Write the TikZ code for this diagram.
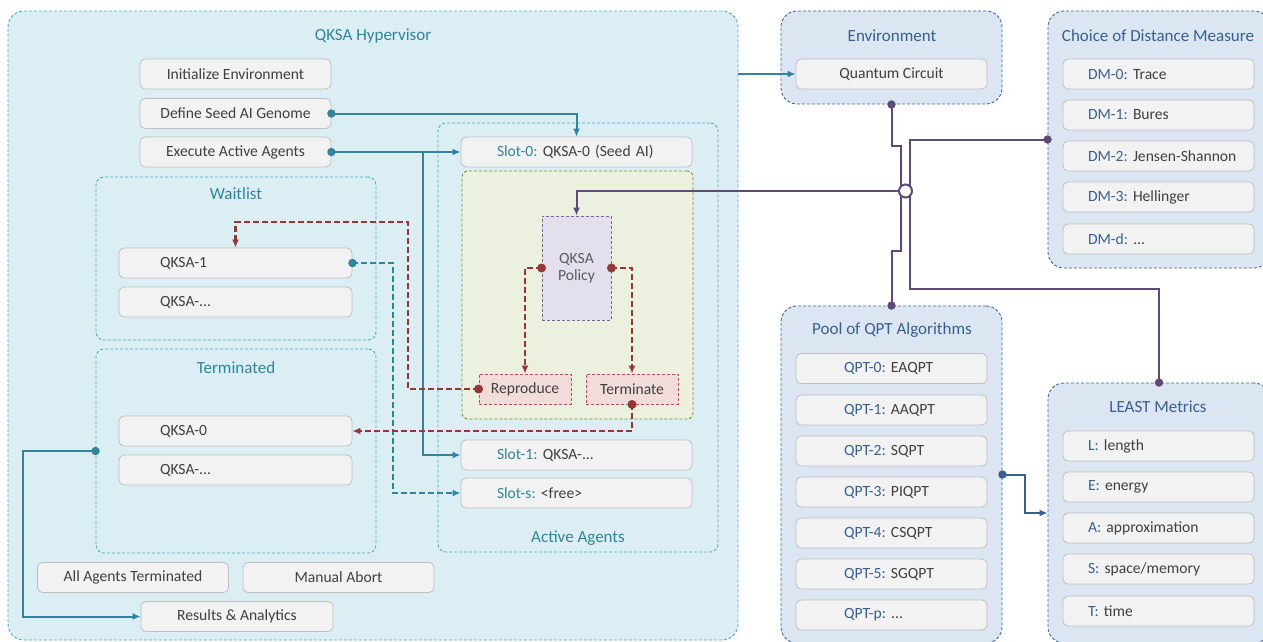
\documentclass[tikz,border=0pt]{standalone}
\usepackage{fontspec}
\setmainfont{Carlito}
\usetikzlibrary{arrows.meta}
\pgfdeclarelayer{front}
\pgfsetlayers{main,front}

\definecolor{hypfill}{HTML}{DAEEF3}
\definecolor{tealline}{HTML}{31849B}
\definecolor{tealdash}{HTML}{4BACC6}
\definecolor{tealtext}{HTML}{31859C}
\definecolor{gfill}{HTML}{F2F2F2}
\definecolor{gdraw}{HTML}{BFBFBF}
\definecolor{txt}{HTML}{404040}
\definecolor{bluefill}{HTML}{DCE6F2}
\definecolor{bluedraw}{HTML}{41649A}
\definecolor{bluetext}{HTML}{376092}
\definecolor{purp}{HTML}{5F497A}
\definecolor{redl}{HTML}{953735}
\definecolor{redfill}{HTML}{F2DCDB}
\definecolor{reddraw}{HTML}{C0504D}
\definecolor{greenfill}{HTML}{EBF1DE}
\definecolor{greendraw}{HTML}{77933C}
\definecolor{polfill}{HTML}{E4DFEC}
\definecolor{poldraw}{HTML}{8064A2}
\definecolor{navyl}{HTML}{3A5F8F}

\frenchspacing
\newcommand\boxfnt{\fontsize{15.6}{18}\selectfont}
\newcommand\titlefnt{\fontsize{17}{20}\selectfont}
\newcommand\slotlbl[1]{\textcolor{tealtext}{#1}}
\newcommand\bluelbl[1]{\textcolor{bluetext}{#1}}

\tikzset{
  container/.style={draw=tealdash, line width=0.9pt, dash pattern=on 3pt off 2pt,
    rounded corners=8pt, inner sep=0pt},
  outerbox/.style={container, fill=hypfill, rounded corners=16pt},
  rightbox/.style={draw=bluedraw, fill=bluefill, line width=0.9pt,
    dash pattern=on 3pt off 2pt, rounded corners=16pt, inner sep=0pt},
  ttl/.style={font=\titlefnt, text=tealtext, inner sep=0pt},
  bttl/.style={font=\titlefnt, text=bluetext, inner sep=0pt},
  gbox/.style={draw=gdraw, fill=gfill, line width=0.8pt, rounded corners=5pt,
    inner ysep=0pt, minimum height=30pt, font=\boxfnt, text=txt},
  cbox/.style={gbox, inner xsep=0pt, minimum width=191pt},
  lbox/.style={gbox, align=left},
  dashbox/.style={line width=0.9pt, dash pattern=on 3pt off 2pt, inner sep=0pt,
    font=\boxfnt, text=txt},
  tline/.style={draw=tealline, line width=2pt, -{Latex[length=8pt,width=7pt]}},
  tdash/.style={tline, line width=2.4pt, dash pattern=on 6pt off 3pt},
  rline/.style={draw=redl, line width=2.4pt, dash pattern=on 6pt off 3pt,
    -{Latex[length=8pt,width=7pt]}},
  pline/.style={draw=purp, line width=2pt},
  nline/.style={draw=navyl, line width=2pt, -{Latex[length=8pt,width=7pt]}},
}

\begin{document}
\begin{tikzpicture}[x=1pt, y=-1pt]
\useasboundingbox (0,0) rectangle (1263,641);

% ---------- containers ----------
\node[outerbox, minimum width=730pt, minimum height=629pt] (hyp) at (373,325.5) {};
\node[ttl] (hyptitle) at (373,36) {QKSA Hypervisor};

\node[container, minimum width=280pt, minimum height=163pt] (wait) at (236,258.5) {};
\node[ttl] (waittitle) at (236,194) {Waitlist};

\node[container, minimum width=280pt, minimum height=204pt] (term) at (236,451) {};
\node[ttl] (termtitle) at (236,368) {Terminated};

\node[container, minimum width=280pt, minimum height=429pt] (act) at (578,337.5) {};
\node[ttl] (acttitle) at (578,538) {Active Agents};

\node[rightbox, minimum width=221pt, minimum height=93pt] (env) at (891.5,57.5) {};
\node[bttl] (envtitle) at (892,36) {Environment};

\node[rightbox, minimum width=222pt, minimum height=257pt] (dm) at (1159,139.5) {};
\node[bttl] (dmtitle) at (1158,36) {Choice of Distance Measure};

\node[rightbox, minimum width=221pt, minimum height=337pt] (pool) at (891.5,474.5) {};
\node[bttl] (pooltitle) at (892,330) {Pool of QPT Algorithms};

\node[rightbox, minimum width=222pt, minimum height=260pt] (least) at (1159,513) {};
\node[bttl] (leasttitle) at (1158,407) {LEAST Metrics};

% ---------- hypervisor steps ----------
\node[cbox] (init)  at (235.5,74)    {Initialize Environment};
\node[cbox] (def)   at (235.5,113.5) {Define Seed AI Genome};
\node[cbox] (exe)   at (235.5,152)   {Execute Active Agents};
\node[cbox] (allt)  at (133,577.5)   {All Agents Terminated};
\node[cbox] (abort) at (338.5,577.5) {Manual Abort};
\node[cbox, minimum width=192pt] (res) at (237,616.5) {Results \& Analytics};

% ---------- waitlist / terminated ----------
\node[lbox, text width=151pt, inner xsep=41pt] (q1) at (235.5,263) {QKSA-1};
\node[lbox, text width=151pt, inner xsep=41pt] (qw) at (235.5,302) {QKSA-...};
\node[lbox, text width=151pt, inner xsep=41pt] (q0) at (235.5,431) {QKSA-0};
\node[lbox, text width=151pt, inner xsep=41pt] (qt) at (235.5,470) {QKSA-...};

% ---------- active agents ----------
\node[lbox, text width=159pt, inner xsep=36pt] (slot0) at (576.5,152) {\mbox{\slotlbl{Slot-0:} QKSA-0 (Seed AI)}};
\node[dashbox, draw=greendraw, fill=greenfill, rounded corners=6pt,
      minimum width=231pt, minimum height=248pt] (agent) at (577.5,295) {};
\node[dashbox, draw=poldraw, fill=polfill, minimum width=69pt, minimum height=104pt,
      align=center, text=txt!85] (pol) at (576.5,268) {QKSA\\[-1pt]Policy};
\node[dashbox, draw=reddraw, fill=redfill, minimum width=92pt, minimum height=30pt] (rep) at (525,389) {Reproduce};
\node[dashbox, draw=reddraw, fill=redfill, minimum width=92pt, minimum height=30pt] (ter) at (632,389) {Terminate};
\node[lbox, text width=159pt, inner xsep=36pt] (slot1) at (576.5,455) {\mbox{\slotlbl{Slot-1:} QKSA-...}};
\node[lbox, text width=159pt, inner xsep=36pt] (slots) at (576.5,493) {\mbox{\slotlbl{Slot-s:} <free>}};

% ---------- environment ----------
\node[cbox] (qc) at (891.5,74) {Quantum Circuit};

% ---------- distance measures ----------
\node[lbox, text width=141pt, inner xsep=25pt] (dm0) at (1158.5,74)  {\mbox{\bluelbl{DM-0:} Trace}};
\node[lbox, text width=141pt, inner xsep=25pt] (dm1) at (1158.5,115) {\mbox{\bluelbl{DM-1:} Bures}};
\node[lbox, text width=141pt, inner xsep=25pt] (dm2) at (1158.5,156) {\mbox{\bluelbl{DM-2:} Jensen-Shannon}};
\node[lbox, text width=141pt, inner xsep=25pt] (dm3) at (1158.5,197) {\mbox{\bluelbl{DM-3:} Hellinger}};
\node[lbox, text width=141pt, inner xsep=25pt] (dmd) at (1158.5,239) {\mbox{\bluelbl{DM-d:} ...}};

% ---------- QPT algorithms ----------
\node[lbox, text width=95pt, inner xsep=48pt] (qpt0) at (891.5,368.5) {\mbox{\bluelbl{QPT-0:} EAQPT}};
\node[lbox, text width=95pt, inner xsep=48pt] (qpt1) at (891.5,410)   {\mbox{\bluelbl{QPT-1:} AAQPT}};
\node[lbox, text width=95pt, inner xsep=48pt] (qpt2) at (891.5,451)   {\mbox{\bluelbl{QPT-2:} SQPT}};
\node[lbox, text width=95pt, inner xsep=48pt] (qpt3) at (891.5,492)   {\mbox{\bluelbl{QPT-3:} PIQPT}};
\node[lbox, text width=95pt, inner xsep=48pt] (qpt4) at (891.5,533)   {\mbox{\bluelbl{QPT-4:} CSQPT}};
\node[lbox, text width=95pt, inner xsep=48pt] (qpt5) at (891.5,574)   {\mbox{\bluelbl{QPT-5:} SGQPT}};
\node[lbox, text width=95pt, inner xsep=48pt] (qptp) at (891.5,615)   {\mbox{\bluelbl{QPT-p:} ...}};

% ---------- LEAST metrics ----------
\node[lbox, text width=141pt, inner xsep=25pt] (ml) at (1158.5,446) {\mbox{\bluelbl{L:} length}};
\node[lbox, text width=141pt, inner xsep=25pt] (me) at (1158.5,487) {\mbox{\bluelbl{E:} energy}};
\node[lbox, text width=141pt, inner xsep=25pt] (ma) at (1158.5,528) {\mbox{\bluelbl{A:} approximation}};
\node[lbox, text width=141pt, inner xsep=25pt] (ms) at (1158.5,569) {\mbox{\bluelbl{S:} space/memory}};
\node[lbox, text width=141pt, inner xsep=25pt] (mt) at (1158.5,611) {\mbox{\bluelbl{T:} time}};

% ---------- teal flow ----------
\draw[tline] (hyp.east |- qc.west) -- (qc.west);
\draw[tline] (def.east) -| (slot0.north);
\draw[tline] (exe.east) -- (slot0.west);
\coordinate (split) at (423,152);
\draw[tline] (split) |- (slot1.west);
\draw[tdash] (q1.east) -- (393,263) |- (slots.west);
\draw[tline] (term.west) -- (23,451) |- (res.west);
\fill[tealline] (def.east) circle (4.2pt) (exe.east) circle (4.2pt)
  (q1.east) circle (4.2pt) (term.west) circle (4.2pt);

% ---------- policy decisions ----------
\coordinate (rtop) at (408,222);
\draw[rline] (rep.west) -| (rtop) -| (q1.north);
\draw[rline] (pol.west) -| (rep.north);
\draw[rline] (pol.east) -| (ter.north);
\draw[rline] (ter.south) |- (q0.east);
\fill[redl] (rep.west) circle (4.5pt) (pol.west) circle (4.5pt)
  (pol.east) circle (4.5pt) (ter.south) circle (4.5pt);

% ---------- purple bus ----------
\begin{pgfonlayer}{front}
\node[circle, draw=purp, fill=white, line width=2pt, minimum size=13pt, inner sep=0pt] (hub) at (905.5,191) {};
\end{pgfonlayer}
\draw[pline] (env.south) -- (891.5,146) -- (901,146) -- (901,251) -- (891.5,251) -- (pool.north);
\draw[pline] (dm.west) -| (910,289) -| (least.north);
\draw[pline, -{Latex[length=8pt,width=7pt]}] (hub.west) -| (pol.north);
\fill[purp] (env.south) circle (4.2pt) (pool.north) circle (4.2pt)
  (dm.west) circle (4.2pt) (least.north) circle (4.2pt);

% ---------- QPT to metrics ----------
\draw[nline] (pool.east) -- (1025,474.5) |- (least.west);
\fill[navyl] (pool.east) circle (4.2pt);
\end{tikzpicture}
\end{document}
